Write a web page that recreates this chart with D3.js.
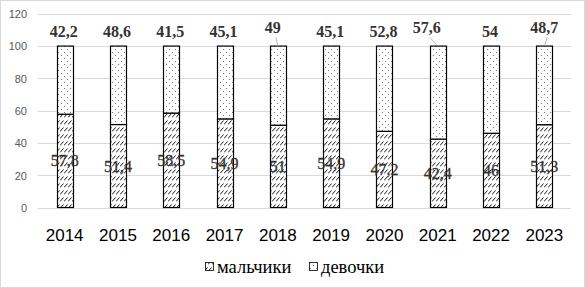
<!DOCTYPE html>
<html><head><meta charset="utf-8">
<script src="https://cdn.jsdelivr.net/npm/d3@7"></script>
<style>body{margin:0;background:#fff}svg{display:block}</style>
</head><body>
<svg id="c" width="585" height="288"></svg>
<script>
const years = ["2014","2015","2016","2017","2018","2019","2020","2021","2022","2023"];
const boys  = [57.8, 51.4, 58.5, 54.9, 51, 54.9, 47.2, 42.4, 46, 51.3];
const girls = [42.2, 48.6, 41.5, 45.1, 49, 45.1, 52.8, 57.6, 54, 48.7];
const boysLabels  = ["57,8","51,4","58,5","54,9","51","54,9","47,2","42,4","46","51,3"];
const girlsLabels = ["42,2","48,6","41,5","45,1","49","45,1","52,8","57,6","54","48,7"];
const yTicks = [0,20,40,60,80,100,120];
const seriesNames = ["мальчики","девочки"];

const SERIF = "'Liberation Serif', 'Times New Roman', serif";
const SANS = "'Liberation Sans', Arial, sans-serif";

const svg = d3.select("#c");
const W = 585, H = 288;
const m = {left:38, right:14, top:14, bottom:80};

svg.append("rect").attr("x",0.5).attr("y",0.5).attr("width",W-1).attr("height",H-1)
  .attr("fill","#fff").attr("stroke","#d9d9d9");

const defs = svg.append("defs");
const hatch = defs.append("pattern").attr("id","hatch").attr("patternUnits","userSpaceOnUse")
  .attr("width",4).attr("height",7);
hatch.append("rect").attr("width",4).attr("height",7).attr("fill","#fff");
hatch.append("path").attr("d","M0,5.5 L3.5,1.5").attr("stroke","#000").attr("stroke-width",0.9);
const dots = defs.append("pattern").attr("id","dots").attr("patternUnits","userSpaceOnUse")
  .attr("width",6).attr("height",6);
dots.append("rect").attr("width",6).attr("height",6).attr("fill","#fff");
dots.append("rect").attr("x",1).attr("y",1).attr("width",1).attr("height",1).attr("fill","#777");
dots.append("rect").attr("x",4).attr("y",4).attr("width",1).attr("height",1).attr("fill","#777");

const x = d3.scaleBand().domain(years).range([m.left, W-m.right]).paddingInner(0.7).paddingOuter(0.35);
const y = d3.scaleLinear().domain([0,120]).range([207.5, 13.8]);

// gridlines
const grid = svg.append("g");
grid.selectAll("line").data(yTicks).join("line")
  .attr("x1",m.left).attr("x2",W-m.right)
  .attr("y1",d=>Math.round(y(d))+0.5).attr("y2",d=>Math.round(y(d))+0.5)
  .attr("stroke","#d9d9d9").attr("stroke-width",1);

// y axis labels
const yAxis = d3.axisLeft(y).tickValues(yTicks).tickSize(0).tickPadding(0);
const ya = svg.append("g").attr("transform",`translate(${27},0)`).call(yAxis);
ya.select(".domain").remove();
ya.selectAll("text").attr("font-family",SANS)
  .attr("font-size",11).attr("fill","#595959").attr("dy","0.35em");

// x axis labels
const xAxis = d3.axisBottom(x).tickSize(0).tickPadding(0);
const xa = svg.append("g").attr("transform",`translate(0,${229})`).call(xAxis);
xa.select(".domain").remove();
xa.selectAll("text").attr("font-family",SANS)
  .attr("font-size",17).attr("fill","#000").attr("dy","0.71em");

// bars
const data = years.map((yr,i)=>({yr, b:boys[i], g:girls[i], bl:boysLabels[i], gl:girlsLabels[i]}));
const bars = svg.append("g");
bars.selectAll("rect.b").data(data).join("rect").attr("class","b")
  .attr("x",d=>Math.round(x(d.yr))+0.5).attr("width",Math.round(x.bandwidth()))
  .attr("y",d=>y(d.b)).attr("height",d=>y(0)-y(d.b))
  .attr("fill","url(#hatch)").attr("stroke","#000").attr("stroke-width",1.2);
bars.selectAll("rect.g").data(data).join("rect").attr("class","g")
  .attr("x",d=>Math.round(x(d.yr))+0.5).attr("width",Math.round(x.bandwidth()))
  .attr("y",d=>y(d.b+d.g)).attr("height",d=>y(d.b)-y(d.b+d.g))
  .attr("fill","url(#dots)").attr("stroke","#000").attr("stroke-width",1.2);

// boys labels (middle of segment)
svg.append("g").selectAll("text").data(data).join("text")
  .attr("x",d=>x(d.yr)+x.bandwidth()/2).attr("y",d=>y(d.b/2))
  .attr("dy","0.35em").attr("text-anchor","middle")
  .style("font-family",SERIF).attr("font-size",16)
  .attr("fill","#333").attr("stroke","#333").attr("stroke-width",0.3)
  .text(d=>d.bl);

// girls labels above bars, some with leader lines
const leader = {"2018":-5, "2021":-11, "2023":0};
const gl = svg.append("g");
data.forEach(d=>{
  const cx = x(d.yr)+x.bandwidth()/2;
  const top = y(d.b+d.g);
  const hasL = d.yr in leader;
  const lx = cx + (hasL ? leader[d.yr] : -1);
  const by = hasL ? top-13 : top-9;
  gl.append("text").attr("x",lx).attr("y",by).attr("text-anchor","middle")
    .style("font-family",SERIF).attr("font-weight","bold")
    .attr("font-size",16).attr("fill","#333").text(d.gl);
  if (hasL) {
    gl.append("line").attr("x1",lx+3).attr("y1",by+4).attr("x2",cx).attr("y2",top)
      .attr("stroke","#a6a6a6").attr("stroke-width",0.8);
  }
});

// legend
const leg = svg.append("g");
const legItems = [{name:seriesNames[0], fill:"url(#hatch)", x:205},{name:seriesNames[1], fill:"url(#dots)", x:309}];
legItems.forEach(it=>{
  leg.append("rect").attr("x",it.x+0.5).attr("y",262.5).attr("width",8).attr("height",8)
    .attr("fill",it.fill).attr("stroke","#000").attr("stroke-width",0.8);
  leg.append("text").attr("x",it.x+12).attr("y",267).attr("dy","0.35em")
    .style("font-family",SERIF).attr("font-size",18.5)
    .attr("fill","#000").text(it.name);
});
</script>
</body></html>
